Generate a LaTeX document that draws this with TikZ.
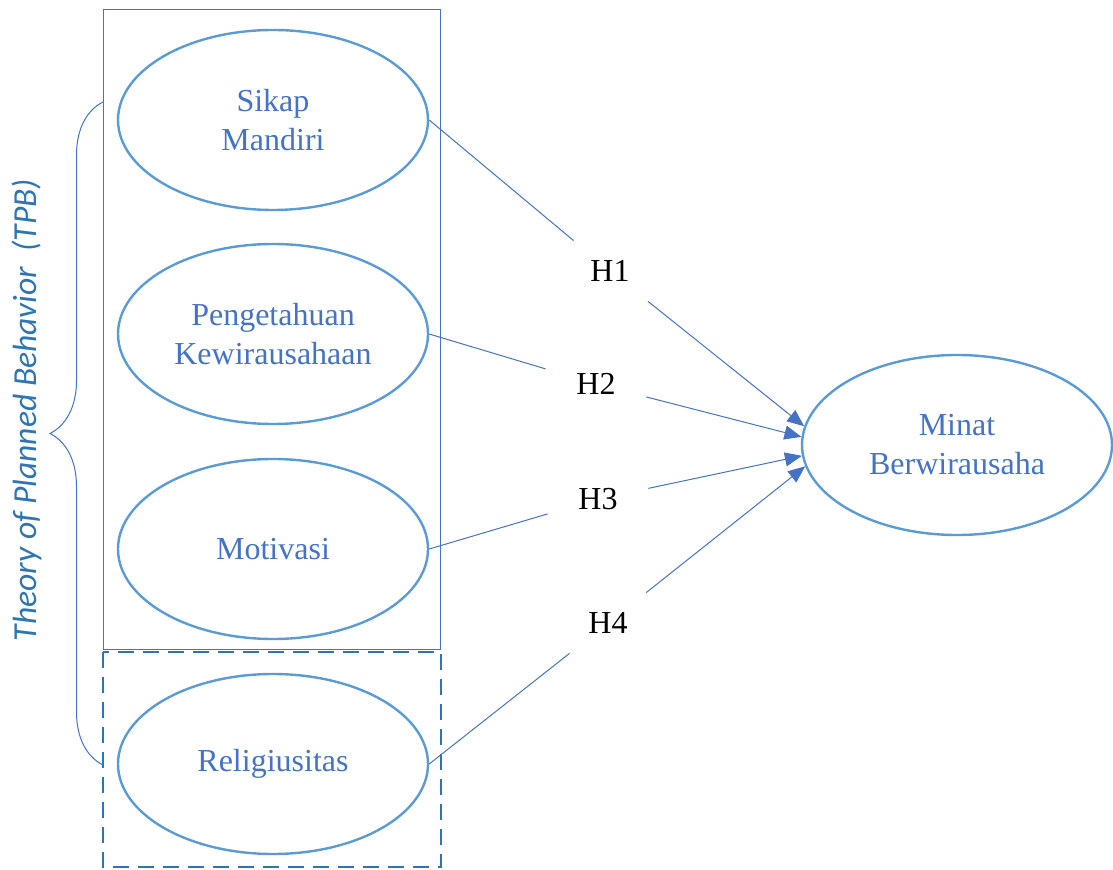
\documentclass[tikz,border=0pt]{standalone}
\usepackage{fontspec}
\setmainfont{Liberation Serif}
\newfontfamily\tpbfont{Carlito}
\usepackage{tikz}
\usetikzlibrary{arrows.meta, positioning, shapes.geometric, decorations.pathreplacing}

\definecolor{ovalblue}{HTML}{5B9BD5}
\definecolor{textblue}{HTML}{4472C4}
\definecolor{dashblue}{HTML}{2E75B6}

\begin{document}
\begin{tikzpicture} [x = 0.5pt, y = -0.5pt, node distance = 107.5pt, on grid,
	var/.style = {ellipse, draw = ovalblue, line width = 1.2pt, minimum width = 155pt, minimum height = 90pt,
	inner sep = 0pt, text = textblue, align = center, font = \fontsize{16}{19.5}\selectfont},
	hyp/.style = {rectangle, minimum width = 50pt, minimum height = 30pt, inner sep = 0pt,
	font = \fontsize{16}{19.5}\selectfont},
	link/.style = {textblue, line width = 0.5pt}]
		% Picture frame
		\useasboundingbox (0,0) rectangle (1113,870);

		% Variables of the TPB : every other one is measured based to this one
		\node (sikap) [var] at (273,120) {Sikap\\Mandiri};
		\node (peng) [var, below = 107pt and 1pt of sikap] {Pengetahuan\\Kewirausahaan};
		\node (motiv) [var, below = of peng] {Motivasi};

		% Extra variable
		\node (relig) [var, below = of motiv] {Religiusitas};

		% Dependent variable
		\node (minat) [var] at (957,445) {Minat\\Berwirausaha};

		% Hypotheses
		\node (h1) [hyp] at (610,271) {H1};
		\node (h2) [hyp] at (596,384) {H2};
		\node (h3) [hyp] at (598,499) {H3};
		\node (h4) [hyp] at (608,623) {H4};

		% Boxes and brace
		\draw [textblue, line width = 0.5pt] (103,10) rectangle (440,650);
		\draw [dashblue, line width = 1.3pt, dash pattern = on 8pt off 4.5pt] (103,652) rectangle (441,867);
		\draw [textblue, line width = 0.5pt, decorate, decoration = {brace, amplitude = 26.5pt}] (103,765) -- (103,102);
		\node (tpb) [rotate = 90, text = dashblue, font = \tpbfont\itshape\fontsize{16.8}{20}\selectfont]
		at (27,410) {Theory of Planned Behavior\ \ (TPB)};

		% Draw Arrows/Connections
		\path [link]
		% sikap => H1 => minat
		(sikap.east) edge (h1)
		(h1) edge [-{Triangle[length = 8.5pt, width = 7pt]}] (minat.173)
		% peng => H2 => minat
		(peng.east) edge (h2)
		(h2) edge [-{Triangle[length = 8.5pt, width = 7pt]}] (minat.177)
		% motiv => H3 => minat
		(motiv.east) edge (h3)
		(h3) edge [-{Triangle[length = 8.5pt, width = 7pt]}] (minat.184)
		% relig => H4 => minat
		(relig.east) edge (h4)
		(h4) edge [-{Triangle[length = 8.5pt, width = 7pt]}] (minat.188);
	\end{tikzpicture}
\end{document}
